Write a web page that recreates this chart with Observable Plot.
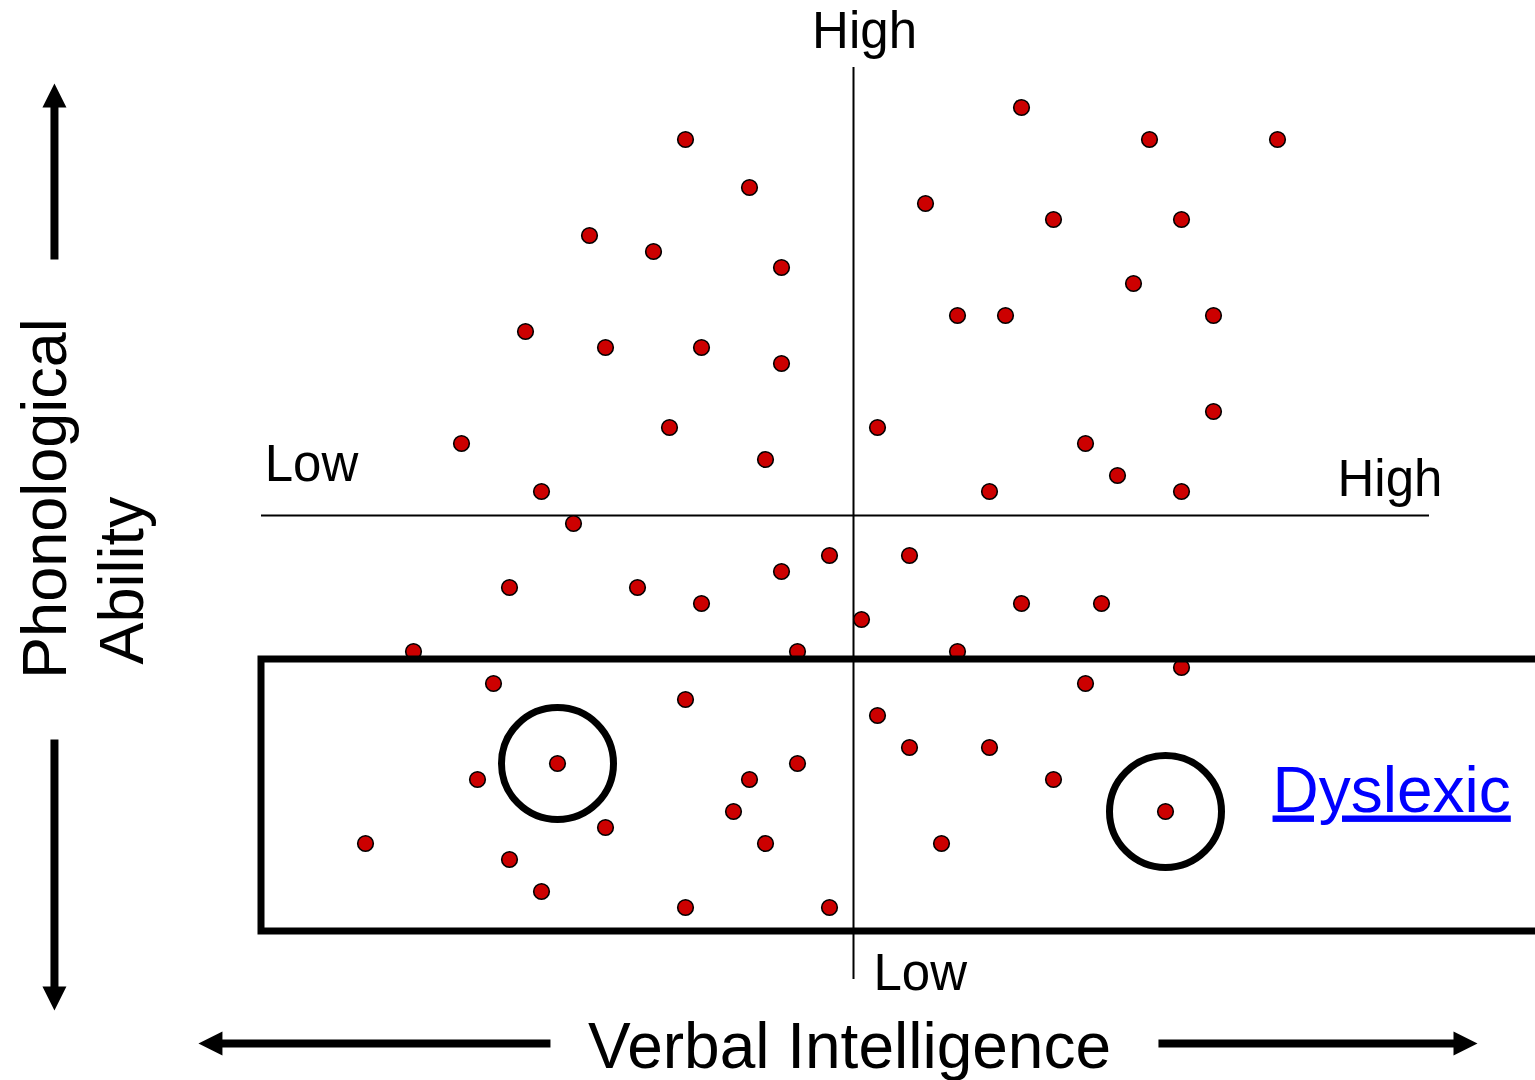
<!DOCTYPE html>
<html>
<head>
<meta charset="utf-8">
<script src="https://cdn.jsdelivr.net/npm/d3@7"></script>
<script src="https://cdn.jsdelivr.net/npm/@observablehq/plot@0.6"></script>
<style>
  html, body { margin: 0; padding: 0; background: #fff; overflow: hidden; }
  #chart svg { display: block; }
  text[aria-label="dyslexic label"] { text-decoration: underline; }
</style>
</head>
<body>
<div id="chart"></div>
<script>
// ---- DATA ----
// Each child: verbal intelligence (x) and phonological ability (y), in score units around the mean (0)
const verbal = [
  10.5, -10.5, 18.5, 26.5, -6.5, 4.5, 12.5, 20.5, -16.5, -12.5,
  -4.5, 17.5, 6.5, 9.5, 22.5, -20.5, -15.5, -9.5, -4.5, 22.5,
  -11.5, 1.5, -24.5, 14.5, -5.5, 16.5, -19.5, 8.5, 20.5, -17.5,
  -1.5, 3.5, -4.5, -21.5, -13.5, -9.5, 10.5, 15.5, 0.5, -27.5,
  -3.5, 6.5, 20.5, -22.5, 14.5, -10.5, 1.5, 3.5, 8.5, -18.5,
  -3.5, -23.5, -6.5, 12.5, -7.5, 19.5, -15.5, -30.5, -5.5, 5.5,
  -21.5, -19.5, -10.5, -1.5
];
const phonological = [
  25.5, 23.5, 23.5, 23.5, 20.5, 19.5, 18.5, 18.5, 17.5, 16.5,
  15.5, 14.5, 12.5, 12.5, 12.5, 11.5, 10.5, 10.5, 9.5, 6.5,
  5.5, 5.5, 4.5, 4.5, 3.5, 2.5, 1.5, 1.5, 1.5, -0.5,
  -2.5, -2.5, -3.5, -4.5, -4.5, -5.5, -5.5, -5.5, -6.5, -8.5,
  -8.5, -8.5, -9.5, -10.5, -10.5, -11.5, -12.5, -14.5, -14.5, -15.5,
  -15.5, -16.5, -16.5, -16.5, -18.5, -18.5, -19.5, -20.5, -20.5, -20.5,
  -21.5, -23.5, -24.5, -24.5
];
// children circled in the figure (indices into the arrays above)
const circledChildren = [49, 55];
// the "dyslexic" band of phonological ability
const dyslexicBand = [{phonoLow: -26, phonoHigh: -9, verbalFrom: -37, verbalTo: 43}];

// text
const verbalTitle = "Verbal Intelligence";
const phonoTitle = ["Phonological", "Ability"];
const phonoEnds = ["High", "Low"];    // top, bottom of the vertical axis
const verbalEnds = ["Low", "High"];   // left, right of the horizontal axis
const groupLabel = "Dyslexic";

// ---- LAYOUT (scale units) ----
const W = 1535, H = 1080, unit = 16, origin = [853, 515];
const axisExtent = {phono: [-29, 28], verbal: [-37, 36]};
const arrows = [
  {x1: -49.94, y1: 16, x2: -49.94, y2: 26.25, dir: "up"},
  {x1: -49.94, y1: -14, x2: -49.94, y2: -30.19, dir: "down"},
  {x1: -18.94, y1: -33, x2: -40.19, y2: -33, dir: "left"},
  {x1: 19.06, y1: -33, x2: 38.25, y2: -33, dir: "right"}
];

const children = verbal.map((v, i) => ({verbal: v, phono: phonological[i]}));
const circled = circledChildren.map(i => children[i]);

// filled triangular arrow heads as custom symbols
function head(dx, dy) {
  return {
    draw(ctx, size) {
      const k = Math.sqrt(size / Math.PI);
      const px = -dy, py = dx;
      ctx.moveTo(dx * k, dy * k);
      ctx.lineTo(-dx * k + px * k, -dy * k + py * k);
      ctx.lineTo(-dx * k - px * k, -dy * k - py * k);
      ctx.closePath();
    }
  };
}
const heads = {up: head(0, -1), down: head(0, 1), left: head(-1, 0), right: head(1, 0)};

const font = "'Liberation Sans', Arial, Helvetica, sans-serif";

const chart = Plot.plot({
  width: W,
  height: H,
  margin: 0,
  x: {domain: [-origin[0] / unit, (W - origin[0]) / unit], range: [0, W], axis: null},
  y: {domain: [(origin[1] - H) / unit, origin[1] / unit], range: [H, 0], axis: null},
  style: {background: "white"},
  marks: [
    // quadrant axes
    Plot.ruleX([0], {y1: axisExtent.phono[0], y2: axisExtent.phono[1], stroke: "black", strokeWidth: 2}),
    Plot.ruleY([0], {x1: axisExtent.verbal[0], x2: axisExtent.verbal[1], stroke: "black", strokeWidth: 2}),
    // children
    Plot.dot(children, {x: "verbal", y: "phono", r: 7.8, fill: "#cc0000", stroke: "black", strokeWidth: 1.6}),
    // dyslexic band
    Plot.rect(dyslexicBand, {x1: "verbalFrom", x2: "verbalTo", y1: "phonoLow", y2: "phonoHigh", fill: "none", stroke: "black", strokeWidth: 7}),
    // circled children
    Plot.dot(circled, {x: "verbal", y: "phono", r: 56, fill: "none", stroke: "black", strokeWidth: 7}),
    // axis end labels
    Plot.text([phonoEnds[0]], {x: 0.69, y: 29.25, text: d => d, textAnchor: "middle", lineAnchor: "bottom", fontSize: 51, fontFamily: font, fill: "black"}),
    Plot.text([phonoEnds[1]], {x: 1.25, y: -29.63, text: d => d, textAnchor: "start", lineAnchor: "bottom", fontSize: 51, fontFamily: font, fill: "black"}),
    Plot.text([verbalEnds[0]], {x: -36.8, y: 2.13, text: d => d, textAnchor: "start", lineAnchor: "bottom", fontSize: 51, fontFamily: font, fill: "black"}),
    Plot.text([verbalEnds[1]], {x: 30.25, y: 1.19, text: d => d, textAnchor: "start", lineAnchor: "bottom", fontSize: 51, fontFamily: font, fill: "black"}),
    // axis titles
    Plot.text([verbalTitle], {x: -0.25, y: -34.5, text: d => d, textAnchor: "middle", lineAnchor: "bottom", fontSize: 64, fontFamily: font, fill: "black"}),
    Plot.text([phonoTitle[0]], {x: -49.25, y: 1.06, text: d => d, rotate: -90, textAnchor: "middle", lineAnchor: "bottom", fontSize: 63, fontFamily: font, fill: "black"}),
    Plot.text([phonoTitle[1]], {x: -44.38, y: -4.06, text: d => d, rotate: -90, textAnchor: "middle", lineAnchor: "bottom", fontSize: 63, fontFamily: font, fill: "black"}),
    // group label (underlined, link style)
    Plot.text([groupLabel], {x: 26.19, y: -18.5, text: d => d, textAnchor: "start", lineAnchor: "bottom", fontSize: 64, fontFamily: font, fill: "#0000ff", ariaLabel: () => "dyslexic label"}),
    // arrows
    Plot.link(arrows, {x1: "x1", y1: "y1", x2: "x2", y2: "y2", stroke: "black", strokeWidth: 8}),
    ...arrows.map(a => Plot.dot([a], {x: "x2", y: "y2", r: 12, symbol: heads[a.dir], fill: "black", stroke: "none"}))
  ]
});
document.getElementById("chart").appendChild(chart);
</script>
</body>
</html>
